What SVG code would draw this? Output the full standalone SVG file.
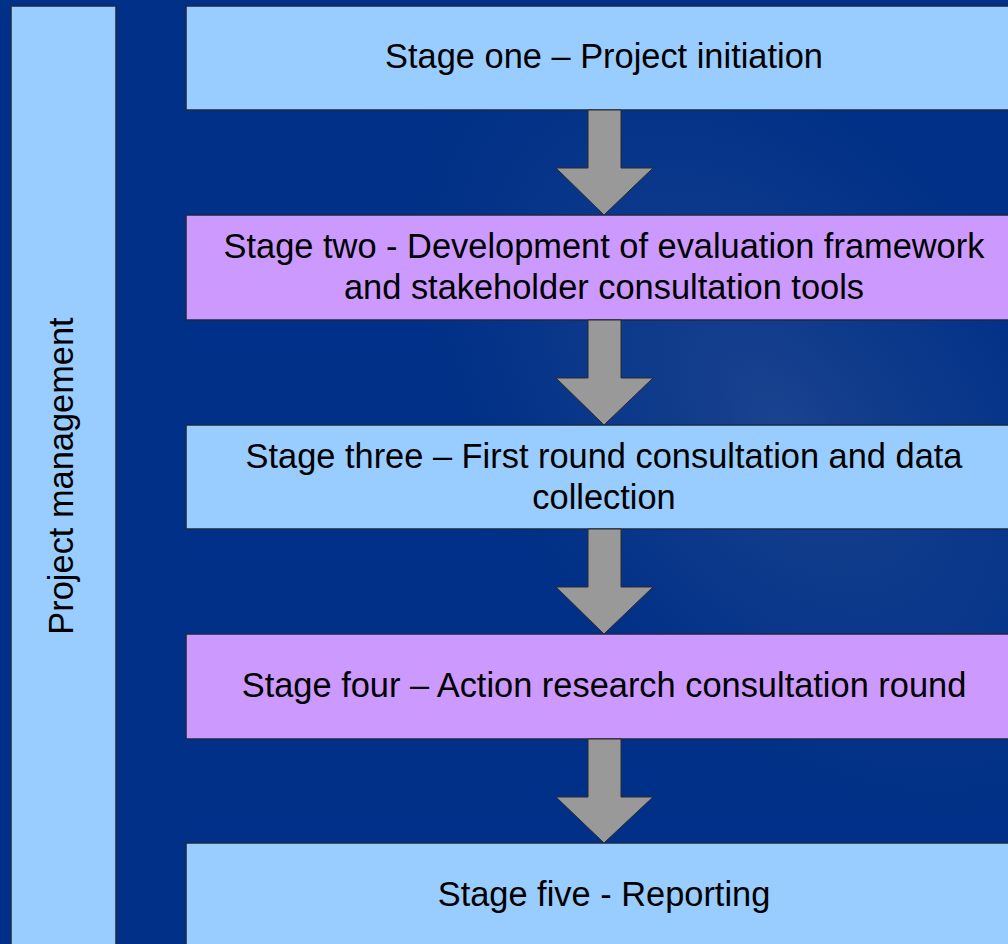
<svg xmlns="http://www.w3.org/2000/svg" width="1008" height="944" viewBox="0 0 1008 944">
<defs>
<radialGradient id="glow" cx="780" cy="420" r="420" gradientUnits="userSpaceOnUse" gradientTransform="translate(780 420) rotate(-40) scale(0.75 1.25) translate(-780 -420)">
<stop offset="0" stop-color="#1f4690" stop-opacity="0.85"/>
<stop offset="0.55" stop-color="#123d8c" stop-opacity="0.5"/>
<stop offset="1" stop-color="#003087" stop-opacity="0"/>
</radialGradient>
<style>
.blue{fill:#99ccff;stroke:#1a2a44;stroke-width:1.5}
.purple{fill:#cc99ff;stroke:#1a2a44;stroke-width:1.5}
.lbl{font-family:"Liberation Sans",Arial,sans-serif;font-size:34.4px;fill:#000;text-anchor:middle}
.arrow{fill:#999999;stroke:#2a2a2a;stroke-width:1}
</style>
</defs>
<rect x="0" y="0" width="1008" height="944" fill="#003087"/>
<rect x="0" y="0" width="1008" height="944" fill="url(#glow)"/>
<g id="project-management">
<rect class="blue" x="11" y="6" width="105" height="950"/>
<text class="lbl" transform="translate(73 476) rotate(-90)">Project management</text>
</g>
<g id="stage1">
<rect class="blue" x="186" y="6" width="836" height="104"/>
<text class="lbl" x="604" y="68">Stage one – Project initiation</text>
</g>
<g id="stage2">
<rect class="purple" x="186" y="215" width="836" height="105"/>
<text class="lbl" x="604" y="258">Stage two - Development of evaluation framework</text>
<text class="lbl" x="604" y="299">and stakeholder consultation tools</text>
</g>
<g id="stage3">
<rect class="blue" x="186" y="425" width="836" height="104"/>
<text class="lbl" x="604" y="468">Stage three – First round consultation and data</text>
<text class="lbl" x="604" y="509">collection</text>
</g>
<g id="stage4">
<rect class="purple" x="186" y="634" width="836" height="105"/>
<text class="lbl" x="604" y="697">Stage four – Action research consultation round</text>
</g>
<g id="stage5">
<rect class="blue" x="186" y="843" width="836" height="110"/>
<text class="lbl" x="604" y="906">Stage five - Reporting</text>
</g>
<g id="connectors">
<polygon class="arrow" points="588,110 621,110 621,168 653,168 604,215 556,168 588,168"/>
<polygon class="arrow" points="588,320 621,320 621,378 653,378 604,425 556,378 588,378"/>
<polygon class="arrow" points="588,529 621,529 621,587 653,587 604,634 556,587 588,587"/>
<polygon class="arrow" points="588,739 621,739 621,797 653,797 604,843 556,797 588,797"/>
</g>
</svg>
